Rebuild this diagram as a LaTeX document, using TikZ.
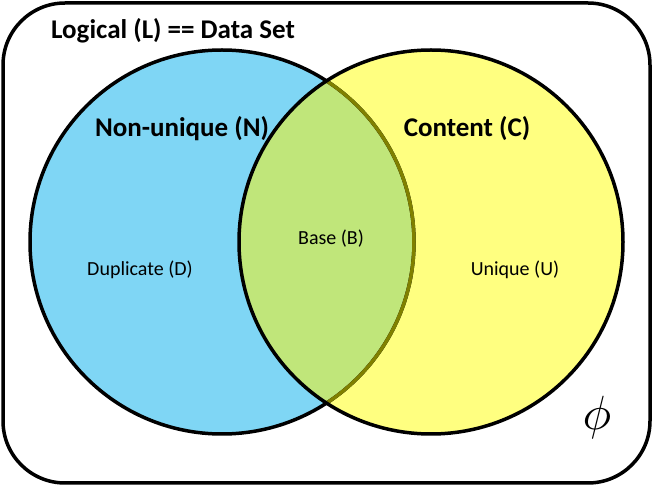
\documentclass[tikz,border=0pt]{standalone}
\usepackage{fontspec}
\setmainfont{Carlito}
\usepackage{tikz}
\usetikzlibrary{shapes, positioning}
\definecolor{nblue}{RGB}{127,214,245}
\definecolor{cyellow}{RGB}{255,255,128}
\definecolor{bgreen}{RGB}{192,230,122}
\definecolor{olivearc}{RGB}{128,128,0}
\tikzstyle{frame} = [draw, line width=3.5pt, rounded corners=62pt]
\tikzstyle{setline} = [line width=3.5pt]
\tikzstyle{title} = [font=\fontsize{27}{32}\selectfont\bfseries, inner sep=0pt]
\tikzstyle{part} = [font=\fontsize{20}{24}\selectfont, inner sep=0pt]

\begin{document}
\begin{tikzpicture}[x=1pt, y=-1pt]
			\useasboundingbox (0,0) rectangle (654,486);
			\path [frame] (3,3) rectangle (650,483);

			\coordinate (nc) at (222,242);
			\coordinate (cc) at (431,242);

			\fill [nblue] (nc) circle (192pt);
			\fill [cyellow] (cc) circle (192pt);
			\begin{scope}
				\clip (nc) circle (192pt);
				\fill [bgreen] (cc) circle (192pt);
			\end{scope}
			\draw [setline] (nc) circle (192pt);
			\begin{scope}
				\clip (cc) circle (192pt);
				\draw [setline, olivearc] (nc) circle (192pt);
			\end{scope}
			\draw [setline] (cc) circle (192pt);

			\node [title] (L) at (173,31) {Logical (L) == Data Set};
			\node [title] (N) at (182,129) {Non-unique (N)};
			\node [title] (C) at (467,129) {Content (C)};
			\node [part] (B) at (331,239) {Base (B)};
			\node [part] (D) at (140,270) {Duplicate (D)};
			\node [part] (U) at (515,270) {Unique (U)};
			\node [inner sep=0pt] (phi) at (597,418) {\scalebox{4.8}{$\phi$}};
		\end{tikzpicture}
\end{document}
